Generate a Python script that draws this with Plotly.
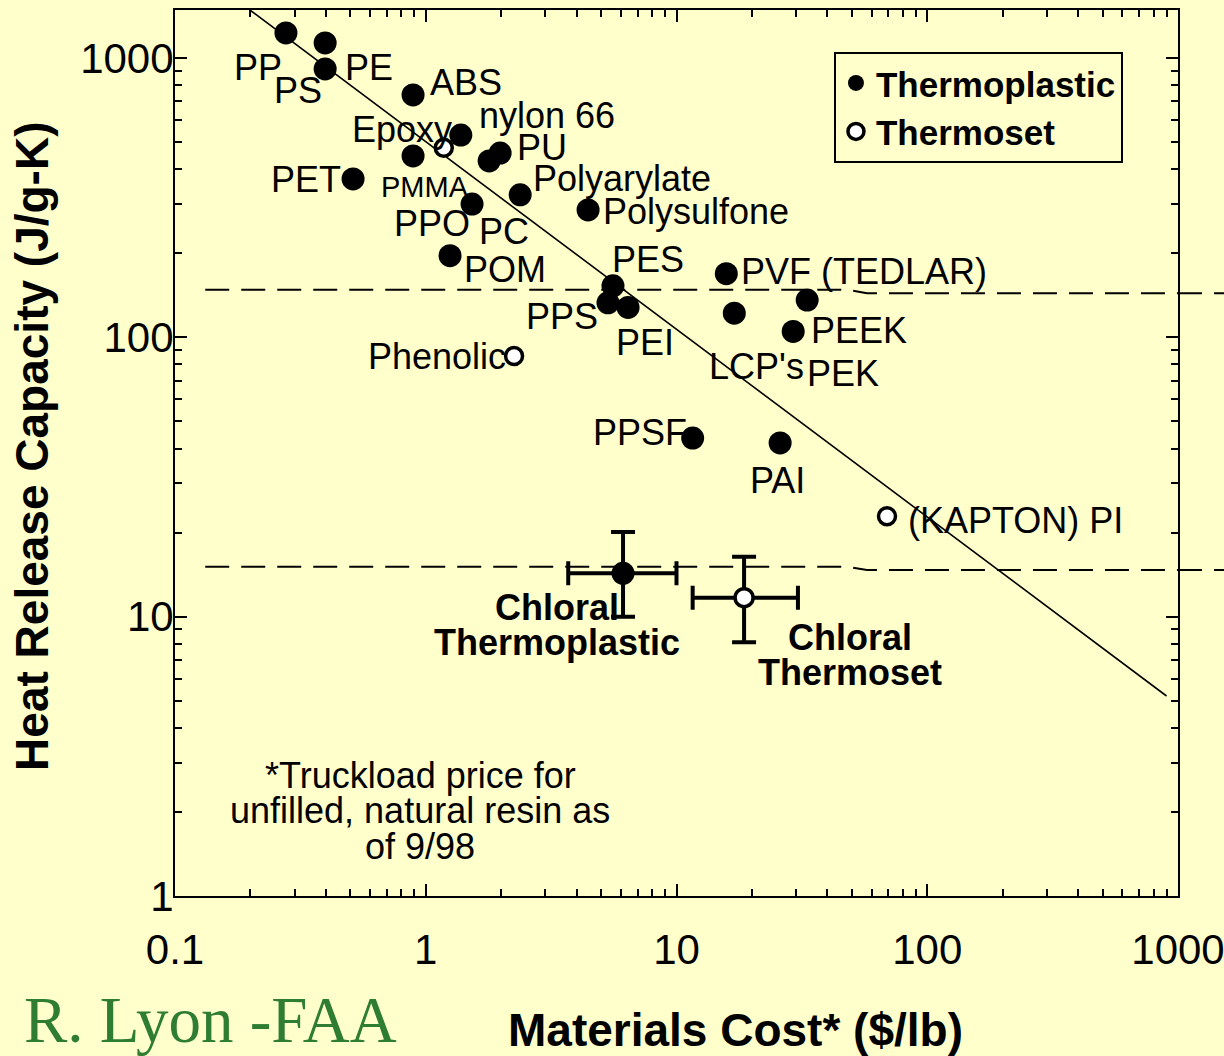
import numpy as np
import plotly.graph_objects as go

# ---- data: materials cost ($/lb) vs heat release capacity (J/g-K) ----
tp_names = ["PP", "PE", "PS", "ABS", "nylon 66", "PMMA", "PU (b)", "PU", "Polyarylate",
            "PPO", "PET", "Polysulfone", "POM", "PES", "PPS", "PEI", "PVF (TEDLAR)",
            "LCP's", "PEEK", "PEK", "PPSF", "PAI"]
tp_cost = [0.277, 0.397, 0.397, 0.890, 1.38, 0.890, 1.79, 1.98, 2.38,
           1.53, 0.513, 4.44, 1.25, 5.58, 5.33, 6.41, 15.8,
           17.0, 33.2, 29.2, 11.6, 25.9]
tp_hrc = [1230, 1133, 914, 738, 530, 446, 428, 457, 324,
          300, 369, 286, 196, 153, 133, 128, 169,
          122, 136, 105, 43.6, 41.9]

ts_names = ["Epoxy", "Phenolic", "(KAPTON) PI"]
ts_cost = [1.18, 2.25, 69.1]
ts_hrc = [477, 85.8, 22.9]

chloral_names = ["Chloral<br>Thermoplastic", "Chloral<br>Thermoset"]
chloral_cost = [6.12, 18.6]
chloral_cost_lo = [3.7, 11.6]
chloral_cost_hi = [10.0, 30.5]
chloral_hrc = [14.3, 11.7]
chloral_hrc_lo = [10.0, 8.1]
chloral_hrc_hi = [20.1, 16.4]

# trend line through the data
fit_cost = [0.2, 900]
fit_hrc = [1480, 5.2]

# dashed reference levels
level_cost = [0.132, 48, 57.5, 1000]
upper_level = [148, 148, 144, 144]
lower_level = [15.1, 15.1, 14.7, 14.7]

x_tickvals = [0.1, 1, 10, 100, 1000]
x_ticktext = ["0.1", "1", "10", "100", "1000"]
y_tickvals = [1, 10, 100, 1000]
y_ticktext = ["1", "10", "100", "1000"]

footnote_lines = ["*Truckload price for", "unfilled, natural resin as", "of 9/98"]
credit = "R. Lyon -FAA"

# ---- styling ----
BG = "#FFFFCC"
FONT = "Liberation Sans, Arial, Helvetica, sans-serif"
LABEL_SIZE = 36
LEGEND_SIZE = 35
TITLE_SIZE = 46

# label placement: pixel offset (right, down) of the text centre from its point
tp_label_offsets = {
    "PP": (-28, 35), "PE": (44, 25), "PS": (-27, 22), "ABS": (53, -12),
    "nylon 66": (86, -20), "PMMA": (12, 31), "PU": (42, -6),
    "Polyarylate": (102, -16), "PET": (-47, 1), "Polysulfone": (108, 2),
    "POM": (55, 14), "PES": (35, -26), "PPS": (-46, 14), "PEI": (17, 35),
    "PVF (TEDLAR)": (138, -2), "LCP's": (22, 53), "PEEK": (52, 30),
    "PEK": (50, 42), "PPSF": (-53, -6), "PAI": (-3, 38),
}
extra_labels = [("PPO", "PPO", -40, 19), ("PC", "PPO", 32, 27)]
ts_label_offsets = {"Epoxy": (-42, -18), "Phenolic": (-77, 1), "(KAPTON) PI": (128, 4)}
chloral_label_offsets = [(-66, 52), (106, 57)]
small_labels = {"PMMA": 29}

fig = go.Figure()

# trend line
fig.add_trace(go.Scatter(x=fit_cost, y=fit_hrc, mode="lines",
                         line=dict(color="black", width=1.6),
                         showlegend=False, hoverinfo="skip"))

# dashed levels (inside plot)
for lv in (upper_level, lower_level):
    fig.add_trace(go.Scatter(x=level_cost, y=lv, mode="lines",
                             line=dict(color="black", width=2, dash="24px,12px"),
                             showlegend=False, hoverinfo="skip"))
    # continuation past the right spine
    fig.add_shape(type="line", xref="paper", yref="y", x0=1.0, x1=1.06,
                  y0=lv[-1], y1=lv[-1],
                  line=dict(color="black", width=2, dash="24px,12px"))

# thermoplastics
fig.add_trace(go.Scatter(x=tp_cost, y=tp_hrc, mode="markers", name="Thermoplastic",
                         text=tp_names,
                         marker=dict(symbol="circle", size=23, color="black",
                                     line=dict(width=0))))
# thermosets
fig.add_trace(go.Scatter(x=ts_cost, y=ts_hrc, mode="markers", name="Thermoset",
                         text=ts_names,
                         marker=dict(symbol="circle", size=17, color="white",
                                     line=dict(color="black", width=3.5))))

# chloral points with error bars
for i, filled in enumerate([True, False]):
    fig.add_trace(go.Scatter(
        x=[chloral_cost[i]], y=[chloral_hrc[i]], mode="markers", showlegend=False,
        marker=(dict(symbol="circle", size=23, color="black") if filled else
                dict(symbol="circle", size=18, color="white",
                     line=dict(color="black", width=3.5))),
        error_x=dict(type="data", symmetric=False,
                     array=[chloral_cost_hi[i] - chloral_cost[i]],
                     arrayminus=[chloral_cost[i] - chloral_cost_lo[i]],
                     color="black", thickness=4, width=12),
        error_y=dict(type="data", symmetric=False,
                     array=[chloral_hrc_hi[i] - chloral_hrc[i]],
                     arrayminus=[chloral_hrc[i] - chloral_hrc_lo[i]],
                     color="black", thickness=4, width=12),
    ))

LINE_GAP = 35


def add_label(x, y, text, dx, dy, size=LABEL_SIZE, bold=False):
    lines = text.split("<br>")
    n = len(lines)
    for k, line in enumerate(lines):
        off = (k - (n - 1) / 2) * LINE_GAP
        fig.add_annotation(x=np.log10(x), y=np.log10(y), xref="x", yref="y",
                           text=line, showarrow=False,
                           xanchor="center", yanchor="middle",
                           xshift=dx, yshift=-(dy + off),
                           font=dict(family=FONT, size=size, color="black",
                                     weight="bold" if bold else "normal"))


for name, c, h in zip(tp_names, tp_cost, tp_hrc):
    if name in tp_label_offsets:
        dx, dy = tp_label_offsets[name]
        add_label(c, h, name, dx, dy, size=small_labels.get(name, LABEL_SIZE))
for text, ref, dx, dy in extra_labels:
    j = tp_names.index(ref)
    add_label(tp_cost[j], tp_hrc[j], text, dx, dy)
for name, c, h in zip(ts_names, ts_cost, ts_hrc):
    dx, dy = ts_label_offsets[name]
    add_label(c, h, name, dx, dy)
for name, c, h, (dx, dy) in zip(chloral_names, chloral_cost, chloral_hrc, chloral_label_offsets):
    add_label(c, h, name, dx, dy, bold=True)

# footnote
for k, line in enumerate(footnote_lines):
    fig.add_annotation(x=0.2443, y=(896 - 775 - k * 35.5) / 886, xref="paper", yref="paper",
                       text=line, showarrow=False, xanchor="center", yanchor="middle",
                       font=dict(family=FONT, size=LABEL_SIZE, color="black"))

# axis titles
fig.add_annotation(x=0.559, y=-0.1515, xref="paper", yref="paper",
                   text="Materials Cost* ($/lb)", showarrow=False,
                   xanchor="center", yanchor="middle",
                   font=dict(family=FONT, size=TITLE_SIZE, color="black", weight="bold"))
fig.add_annotation(x=-0.1426, y=0.508, xref="paper", yref="paper",
                   text="Heat Release Capacity (J/g-K)", showarrow=False, textangle=-90,
                   xanchor="center", yanchor="middle",
                   font=dict(family=FONT, size=TITLE_SIZE, color="black", weight="bold"))
# credit
fig.add_annotation(x=-0.1525, y=-0.1395, xref="paper", yref="paper",
                   text=credit, showarrow=False, xanchor="left", yanchor="middle",
                   font=dict(family="Liberation Serif, Times New Roman, serif",
                             size=65, color="#2e7d32"))

x_minor = [k * 10.0 ** e for e in range(-1, 3) for k in range(2, 10)]
y_minor = [k * 10.0 ** e for e in range(0, 4) for k in range(2, 10)]

axis_common = dict(type="log", showline=True, linecolor="black", linewidth=2,
                   mirror="allticks", ticks="inside", ticklen=12, tickwidth=1.5,
                   tickcolor="black", showgrid=False, zeroline=False,
                   tickmode="array", ticklabeloverflow="allow", automargin=False,
                   tickfont=dict(family=FONT, size=42, color="black"))

fig.update_xaxes(range=[-1, 3], tickvals=x_tickvals, ticktext=x_ticktext,
                 ticklabelstandoff=16,
                 minor=dict(ticks="inside", ticklen=7, tickwidth=1.5, tickcolor="black",
                            tickmode="array", tickvals=x_minor, showgrid=False),
                 **axis_common)
fig.update_yaxes(range=[0, 3.172], tickvals=y_tickvals, ticktext=y_ticktext,
                 ticklabelstandoff=-9,
                 minor=dict(ticks="inside", ticklen=7, tickwidth=1.5, tickcolor="black",
                            tickmode="array", tickvals=y_minor, showgrid=False),
                 **axis_common)

fig.update_layout(
    width=1224, height=1056,
    margin=dict(l=175, r=46, t=10, b=160, autoexpand=False),
    paper_bgcolor=BG, plot_bgcolor=BG,
    font=dict(family=FONT, color="black"),
    legend=dict(x=0.657, y=0.953, xanchor="left", yanchor="top",
                bgcolor="rgba(0,0,0,0)", bordercolor="black", borderwidth=2,
                font=dict(family=FONT, size=LEGEND_SIZE, color="black", weight="bold"),
                itemsizing="trace"),
)

fig.write_html("out.html")
